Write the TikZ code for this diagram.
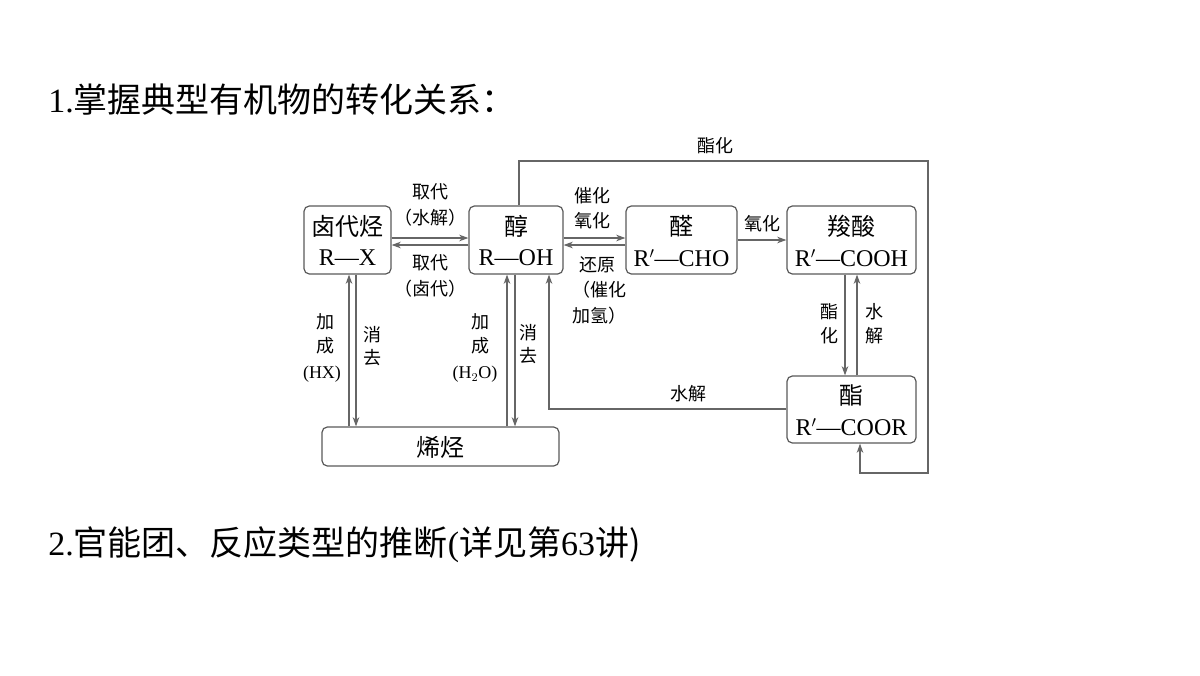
\documentclass[tikz,border=0pt]{standalone}
\usepackage{fontspec}
\setmainfont{Liberation Serif}
\newfontfamily\cjk{Noto Sans CJK SC}
\usetikzlibrary{arrows.meta}
\begin{document}
\begin{tikzpicture}[x=0.75pt,y=-0.75pt,
  box/.style={draw=black!65,line width=0.9pt,rounded corners=4pt,inner sep=0pt},
  ln/.style={draw=black!60,line width=0.9pt},
  ar/.style={ln,-{Stealth[length=7pt,width=5pt]}},
  bt/.style={font=\fontsize{18}{20}\selectfont,align=center},
  lb/.style={font=\fontsize{13.5}{19}\selectfont\cjk,align=center,inner sep=0pt},
  tt/.style={font=\fontsize{25.5}{30}\selectfont,anchor=west,inner sep=0pt}]
\useasboundingbox (0,0) rectangle (1200,675);
\node[tt] (t1) at (48,100) {1.{\cjk 掌握典型有机物的转化关系：}};
\node[tt] (t2) at (48,545) {2.{\cjk 官能团、反应类型的推断}(\cjk 详见第{\rmfamily 63}讲)};
% boxes
\node[box,minimum width=87pt*0.75,minimum height=68pt*0.75] (hx) at (347.5,240) {};
\node[bt] at (347.5,226) {\cjk 卤代烃}; \node[bt] at (347.5,258) {R—X};
\node[box,minimum width=94pt*0.75,minimum height=68pt*0.75] (ch) at (516,240) {};
\node[bt] at (516,226) {\cjk 醇}; \node[bt] at (516,258) {R—OH};
\node[box,minimum width=111pt*0.75,minimum height=68pt*0.75] (al) at (681.5,240) {};
\node[bt] at (681.5,226) {\cjk 醛}; \node[bt] at (681.5,258) {R$'$—CHO};
\node[box,minimum width=129pt*0.75,minimum height=68pt*0.75] (ac) at (851.5,240) {};
\node[bt] at (851.5,226) {\cjk 羧酸}; \node[bt] at (851.5,258) {R$'$—COOH};
\node[box,minimum width=129pt*0.75,minimum height=67pt*0.75] (es) at (851.5,409.5) {};
\node[bt] at (851.5,395) {\cjk 酯}; \node[bt] at (851.5,427) {R$'$—COOR};
\node[box,minimum width=237pt*0.75,minimum height=39pt*0.75] (al2) at (440.5,446.5) {};
\node[bt] at (440.5,447) {\cjk 烯烃};
% horizontal arrows
\draw[ar] (hx.east|-0,238) -- (ch.west|-0,238);
\draw[ar] (ch.west|-0,245) -- (hx.east|-0,245);
\draw[ar] (ch.east|-0,238) -- (al.west|-0,238);
\draw[ar] (al.west|-0,245) -- (ch.east|-0,245);
\draw[ar] (al.east|-0,240) -- (ac.west|-0,240);
% vertical arrows
\draw[ar] (349,0|-al2.north) -- (349,0|-hx.south);
\draw[ar] (356,0|-hx.south) -- (356,0|-al2.north);
\draw[ar] (507,0|-al2.north) -- (507,0|-ch.south);
\draw[ar] (515,0|-ch.south) -- (515,0|-al2.north);
\draw[ar] (845,0|-ac.south) -- (845,0|-es.north);
\draw[ar] (857,0|-es.north) -- (857,0|-ac.south);
\coordinate (p1) at (549,409);
\draw[ar] (es.west|-p1) -- (p1) -- (549,0|-ch.south);
\coordinate (q1) at (519,161); \coordinate (q2) at (928,161);
\coordinate (q3) at (928,473); \coordinate (q4) at (860,473);
\draw[ar] (519,0|-ch.north) -- (q1) -- (q2) -- (q3) -- (q4) -- (860,0|-es.south);
% labels
\node[lb] at (715,146) {酯化};
\node[lb] at (430,192) {取代};
\node[lb] at (430,218) {（水解）};
\node[lb] at (430,263) {取代};
\node[lb] at (430,289) {（卤代）};
\node[lb] at (592,196) {催化};
\node[lb] at (592,221) {氧化};
\node[lb] at (597,265) {还原};
\node[lb] at (599,290) {（催化};
\node[lb] at (599,316) {加氢）};
\node[lb] at (762,224) {氧化};
\node[lb] at (325,322) {加}; \node[lb] at (325,346) {成};
\node[lb,font=\fontsize{13.5}{16}\selectfont] at (322,374) {(HX)};
\node[lb] at (372,335) {消}; \node[lb] at (372,358) {去};
\node[lb] at (480,322) {加}; \node[lb] at (480,346) {成};
\node[lb,font=\fontsize{13.5}{16}\selectfont] at (475,374) {(H$_2$O)};
\node[lb] at (528,333) {消}; \node[lb] at (528,356) {去};
\node[lb] at (829,312) {酯}; \node[lb] at (829,336) {化};
\node[lb] at (874,312) {水}; \node[lb] at (874,336) {解};
\node[lb] at (688,394) {水解};
\end{tikzpicture}
\end{document}
